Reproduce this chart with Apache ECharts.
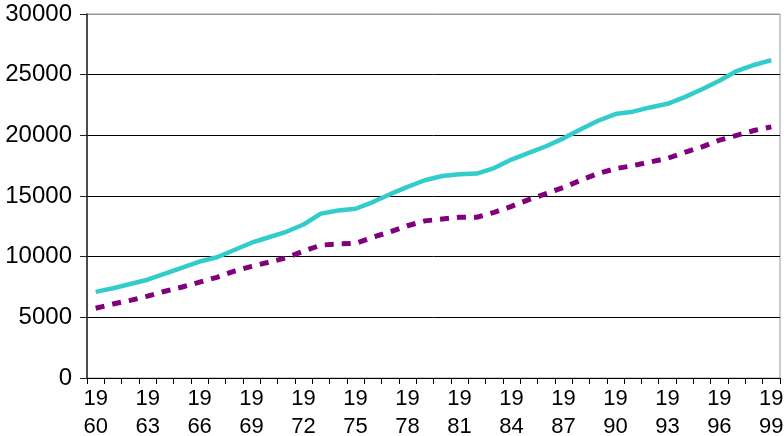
<!DOCTYPE html>
<html>
<head>
<meta charset="utf-8">
<script src="https://cdn.jsdelivr.net/npm/echarts@6/dist/echarts.min.js"></script>
<style>
  html, body { margin: 0; padding: 0; background: #fff; }
  #chart { width: 784px; height: 436px; }
</style>
</head>
<body>
<div id="chart"></div>
<script>
// years 1960 - 1999
const years = [];
for (let y = 1960; y <= 1999; y++) years.push(String(y));

// solid teal line
const seriesA = [
  7100, 7400, 7750, 8100, 8600, 9100, 9600, 9950, 10550, 11150,
  11600, 12050, 12650, 13550, 13800, 13950, 14500, 15150, 15750, 16300,
  16650, 16800, 16850, 17300, 18000, 18550, 19100, 19750, 20500, 21200,
  21750, 21950, 22300, 22600, 23150, 23800, 24500, 25300, 25800, 26200
];

// dashed purple line
const seriesB = [
  5750, 6100, 6400, 6750, 7150, 7500, 7900, 8300, 8800, 9200,
  9550, 9900, 10450, 10950, 11050, 11100, 11600, 12050, 12550, 12950,
  13100, 13250, 13250, 13650, 14150, 14700, 15200, 15700, 16300, 16850,
  17250, 17500, 17800, 18100, 18600, 19050, 19600, 20000, 20400, 20700
];

const myChart = echarts.init(document.getElementById('chart'));
const option = {
  animation: false,
  grid: {
    left: 87, right: 4, top: 14, bottom: 58,
    containLabel: false,
    outerBoundsMode: 'none',
    show: true,
    borderColor: '#999',
    borderWidth: 1
  },
  xAxis: {
    type: 'category',
    data: years,
    boundaryGap: true,
    axisLine: { lineStyle: { color: '#000', width: 1 } },
    axisTick: { show: true, length: 6, interval: 0, lineStyle: { color: '#000' } },
    axisLabel: {
      interval: 2,
      margin: 7,
      color: '#000',
      fontFamily: 'Liberation Sans',
      fontSize: 22,
      lineHeight: 28,
      formatter: v => v.slice(0, 2) + '\n' + v.slice(2)
    }
  },
  yAxis: {
    type: 'value',
    min: 0,
    max: 30000,
    interval: 5000,
    axisLine: { show: true, lineStyle: { color: '#222', width: 1.5 } },
    axisTick: { show: true, length: 7, lineStyle: { color: '#222' } },
    axisLabel: {
      margin: 15,
      color: '#000',
      fontFamily: 'Liberation Sans',
      fontSize: 24,
      formatter: v => String(v)
    },
    splitLine: {
      show: true,
      lineStyle: { color: ['#000', '#000', '#000', '#000', '#000', '#000', '#999'], width: 1 }
    }
  },
  series: [
    {
      name: 'A',
      type: 'line',
      data: seriesA,
      symbol: 'none',
      lineStyle: { color: '#33CCCC', width: 4.5 }
    },
    {
      name: 'B',
      type: 'line',
      data: seriesB,
      symbol: 'none',
      lineStyle: { color: '#800080', width: 5, type: [9, 8] }
    }
  ]
};
myChart.setOption(option);
</script>
</body>
</html>
